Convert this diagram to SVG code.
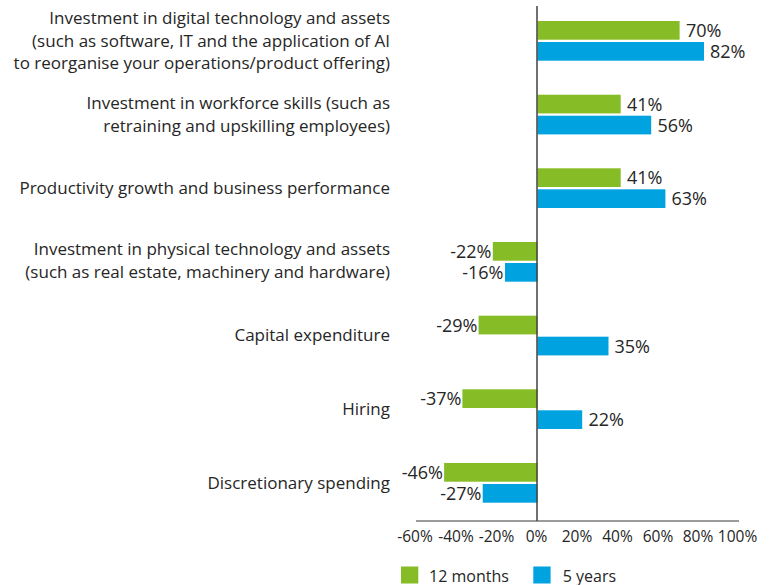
<svg xmlns="http://www.w3.org/2000/svg" width="773" height="585" viewBox="0 0 773 585">
<style>
text{font-family:"Open Sans","Noto Sans","Liberation Sans",sans-serif;fill:#262626}
.cat{font-size:17px;text-anchor:end}
.val{font-size:18px}
.neg{text-anchor:end}
.tick{font-size:15.5px;text-anchor:middle}
.leg{font-size:16px}
.g{fill:#86BC25}
.b{fill:#00A3E0}
</style>
<rect width="773" height="585" fill="#fff"/>
<g id="cat1">
<text class="cat" x="390" y="24">Investment in digital technology and assets</text>
<text class="cat" x="390" y="46.5">(such as software, IT and the application of AI</text>
<text class="cat" x="390" y="69">to reorganise your operations/product offering)</text>
<rect class="g" x="537.5" y="21" width="142.1" height="18.7"/>
<rect class="b" x="537.5" y="42" width="166.5" height="18.7"/>
<text class="val" x="686" y="37">70%</text>
<text class="val" x="710" y="58">82%</text>
</g>
<g id="cat2">
<text class="cat" x="390" y="109.2">Investment in workforce skills (such as</text>
<text class="cat" x="390" y="131.7">retraining and upskilling employees)</text>
<rect class="g" x="537.5" y="94.7" width="83.2" height="18.7"/>
<rect class="b" x="537.5" y="115.7" width="113.7" height="18.7"/>
<text class="val" x="627" y="110.7">41%</text>
<text class="val" x="657.5" y="131.7">56%</text>
</g>
<g id="cat3">
<text class="cat" x="390" y="193.5">Productivity growth and business performance</text>
<rect class="g" x="537.5" y="168.3" width="83.2" height="18.7"/>
<rect class="b" x="537.5" y="189.3" width="127.9" height="18.7"/>
<text class="val" x="627" y="184.3">41%</text>
<text class="val" x="671.5" y="205.3">63%</text>
</g>
<g id="cat4">
<text class="cat" x="390" y="255.2">Investment in physical technology and assets</text>
<text class="cat" x="390" y="277.7">(such as real estate, machinery and hardware)</text>
<rect class="g" x="492.8" y="242" width="44.7" height="18.7"/>
<rect class="b" x="505" y="263" width="32.5" height="18.7"/>
<text class="val neg" x="491.5" y="258">-22%</text>
<text class="val neg" x="503.5" y="279">-16%</text>
</g>
<g id="cat5">
<text class="cat" x="390" y="341">Capital expenditure</text>
<rect class="g" x="478.6" y="315.7" width="58.9" height="18.7"/>
<rect class="b" x="537.5" y="336.7" width="71" height="18.7"/>
<text class="val neg" x="477.5" y="331.7">-29%</text>
<text class="val" x="614.5" y="352.7">35%</text>
</g>
<g id="cat6">
<text class="cat" x="390" y="414.5">Hiring</text>
<rect class="g" x="462.4" y="389.3" width="75.1" height="18.7"/>
<rect class="b" x="537.5" y="410.3" width="44.7" height="18.7"/>
<text class="val neg" x="461.5" y="405.3">-37%</text>
<text class="val" x="588.5" y="426.3">22%</text>
</g>
<g id="cat7">
<text class="cat" x="390" y="488.5">Discretionary spending</text>
<rect class="g" x="444.1" y="463" width="93.4" height="18.7"/>
<rect class="b" x="482.7" y="484" width="54.8" height="18.7"/>
<text class="val neg" x="443" y="479">-46%</text>
<text class="val neg" x="481.5" y="500">-27%</text>
</g>
<g id="axes">
<line x1="416" y1="521" x2="739" y2="521" stroke="#7a7a7a" stroke-width="1.5"/>
<line x1="537" y1="6" x2="537" y2="521" stroke="#404040" stroke-width="1.5"/>
<text class="tick" x="415" y="541.5">-60%</text>
<text class="tick" x="456" y="541.5">-40%</text>
<text class="tick" x="496.5" y="541.5">-20%</text>
<text class="tick" x="536.5" y="541.5">0%</text>
<text class="tick" x="577" y="541.5">20%</text>
<text class="tick" x="617.5" y="541.5">40%</text>
<text class="tick" x="658" y="541.5">60%</text>
<text class="tick" x="698" y="541.5">80%</text>
<text class="tick" x="737.5" y="541.5">100%</text>
</g>
<g id="legend">
<rect class="g" x="401" y="566.5" width="17.3" height="17"/>
<text class="leg" x="429" y="581.5">12 months</text>
<rect class="b" x="533.3" y="566.5" width="17.3" height="17"/>
<text class="leg" x="562.7" y="581.5">5 years</text>
</g>
</svg>
